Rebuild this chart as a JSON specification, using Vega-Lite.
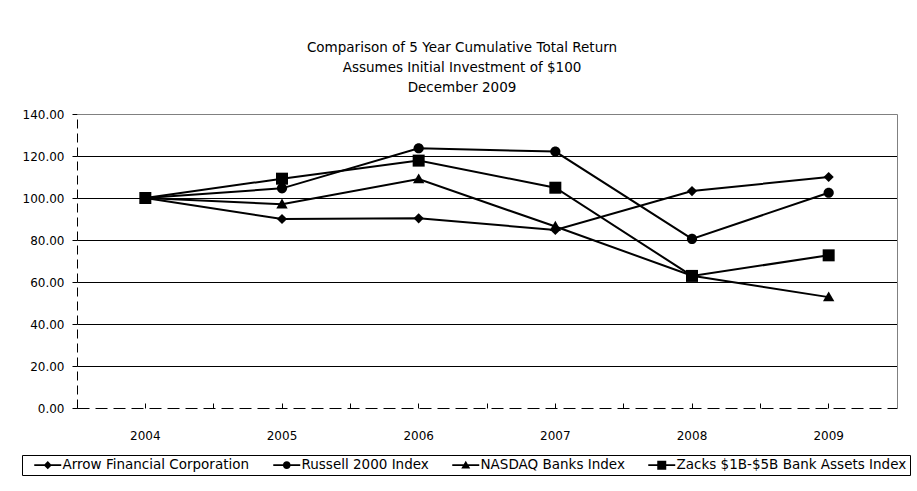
{
  "$schema": "https://vega.github.io/schema/vega-lite/v6.json",
  "description": "Comparison of 5 Year Cumulative Total Return",
  "autosize": "none",
  "padding": {"left": 77, "top": 114, "right": 20, "bottom": 83},
  "width": 820,
  "height": 294,
  "config": {
    "font": "DejaVu Sans",
    "view": {"stroke": null},
    "axis": {"labelFont": "DejaVu Sans", "labelFontSize": 12, "labelColor": "black", "title": null}
  },
  "title": {
    "text": ["Comparison of 5 Year Cumulative Total Return", "Assumes Initial Investment of $100", "December 2009"],
    "font": "DejaVu Sans",
    "fontSize": 13.5,
    "fontWeight": "normal",
    "color": "black",
    "lineHeight": 20,
    "anchor": "middle",
    "dx": -25,
    "offset": 14
  },
  "data": {
    "values": [
      {"year": "2004", "series": "Arrow Financial Corporation", "value": 100},
      {"year": "2005", "series": "Arrow Financial Corporation", "value": 90.0},
      {"year": "2006", "series": "Arrow Financial Corporation", "value": 90.3},
      {"year": "2007", "series": "Arrow Financial Corporation", "value": 84.8},
      {"year": "2008", "series": "Arrow Financial Corporation", "value": 103.3},
      {"year": "2009", "series": "Arrow Financial Corporation", "value": 110.0},
      {"year": "2004", "series": "Russell 2000 Index", "value": 100},
      {"year": "2005", "series": "Russell 2000 Index", "value": 104.6},
      {"year": "2006", "series": "Russell 2000 Index", "value": 123.7},
      {"year": "2007", "series": "Russell 2000 Index", "value": 122.1},
      {"year": "2008", "series": "Russell 2000 Index", "value": 80.5},
      {"year": "2009", "series": "Russell 2000 Index", "value": 102.5},
      {"year": "2004", "series": "NASDAQ Banks Index", "value": 100},
      {"year": "2005", "series": "NASDAQ Banks Index", "value": 97.0},
      {"year": "2006", "series": "NASDAQ Banks Index", "value": 109.0},
      {"year": "2007", "series": "NASDAQ Banks Index", "value": 86.4},
      {"year": "2008", "series": "NASDAQ Banks Index", "value": 63.0},
      {"year": "2009", "series": "NASDAQ Banks Index", "value": 52.8},
      {"year": "2004", "series": "Zacks $1B-$5B Bank Assets Index", "value": 100},
      {"year": "2005", "series": "Zacks $1B-$5B Bank Assets Index", "value": 109.2},
      {"year": "2006", "series": "Zacks $1B-$5B Bank Assets Index", "value": 117.8},
      {"year": "2007", "series": "Zacks $1B-$5B Bank Assets Index", "value": 104.9},
      {"year": "2008", "series": "Zacks $1B-$5B Bank Assets Index", "value": 62.9},
      {"year": "2009", "series": "Zacks $1B-$5B Bank Assets Index", "value": 72.7}
    ]
  },
  "layer": [
    {
      "mark": {"type": "line", "color": "black", "strokeWidth": 2},
      "encoding": {
        "x": {
          "field": "year", "type": "ordinal",
          "scale": {"type": "band", "paddingInner": 0, "paddingOuter": 0},
          "axis": {"orient": "bottom", "labelAngle": 0, "domainColor": "black", "domainDash": [12, 6],
                   "tickColor": "black", "tickSize": -5, "labelPadding": 27, "grid": false}
        },
        "y": {
          "field": "value", "type": "quantitative",
          "scale": {"domain": [0, 140], "nice": false},
          "axis": {"orient": "left", "values": [0, 20, 40, 60, 80, 100, 120, 140], "format": ".2f",
                   "domainColor": "black", "domainDash": [9, 5], "tickColor": "black", "tickSize": 5,
                   "labelPadding": 8, "grid": true, "gridColor": "black", "gridWidth": 1,
                   "gridOpacity": {"condition": {"test": "datum.value === 0 || datum.value === 140", "value": 0}, "value": 1}}
        },
        "detail": {"field": "series"}
      }
    },
    {
      "mark": {"type": "point", "filled": true, "color": "black", "opacity": 1, "size": 144},
      "encoding": {
        "x": {
          "field": "year", "type": "ordinal",
          "axis": {"orient": "top", "labels": false, "ticks": false, "domainColor": "#808080", "grid": false}
        },
        "y": {
          "field": "value", "type": "quantitative",
          "axis": {"orient": "right", "labels": false, "ticks": false, "domainColor": "#808080", "grid": false}
        },
        "shape": {
          "field": "series", "type": "nominal",
          "sort": ["Arrow Financial Corporation", "Russell 2000 Index", "NASDAQ Banks Index", "Zacks $1B-$5B Bank Assets Index"],
          "scale": {"range": [
            "M0,-0.85L0.85,0L0,0.85L-0.85,0Z",
            "M-0.85,0A0.85,0.85,0,1,1,0.85,0A0.85,0.85,0,1,1,-0.85,0Z",
            "M0,-0.95L0.95,0.7L-0.95,0.7Z",
            "M-1,-1L1,-1L1,1L-1,1Z"
          ]},
          "legend": null
        }
      }
    },
    {
      "mark": {"type": "point", "filled": true, "color": "black", "opacity": 0},
      "encoding": {
        "x": {
          "field": "year", "type": "ordinal",
          "axis": {"orient": "bottom", "bandPosition": 0, "labels": false, "domain": false, "grid": false,
                   "tickColor": "black", "tickSize": -5}
        },
        "y": {"field": "value", "type": "quantitative", "axis": null},
        "shape": {
          "field": "series", "type": "nominal",
          "sort": ["Arrow Financial Corporation", "Russell 2000 Index", "NASDAQ Banks Index", "Zacks $1B-$5B Bank Assets Index"],
          "scale": {"range": [
            "M-3,-0.22L3,-0.22L3,0.22L-3,0.22ZM0,-0.9L0.9,0L0,0.9L-0.9,0Z",
            "M-3,-0.22L3,-0.22L3,0.22L-3,0.22ZM-0.85,0A0.85,0.85,0,1,1,0.85,0A0.85,0.85,0,1,1,-0.85,0Z",
            "M-3,-0.22L3,-0.22L3,0.22L-3,0.22ZM0,-1L1,0.75L-1,0.75Z",
            "M-3,-0.22L3,-0.22L3,0.22L-3,0.22ZM-1,-1L1,-1L1,1L-1,1Z"
          ]},
          "legend": {
            "title": null, "orient": "none", "legendX": -55, "legendY": 341,
            "direction": "horizontal", "columns": 4, "strokeColor": "black", "padding": 3,
            "labelFont": "DejaVu Sans", "labelFontSize": 13.5, "labelColor": "black", "labelLimit": 300,
            "symbolSize": 81, "symbolOffset": 16, "labelOffset": 8, "columnPadding": 14,
            "symbolFillColor": "black", "symbolStrokeColor": "black", "symbolStrokeWidth": 0, "symbolOpacity": 1
          }
        }
      }
    }
  ],
  "resolve": {
    "scale": {"shape": "independent"},
    "axis": {"x": "independent", "y": "independent"},
    "legend": {"shape": "independent"}
  }
}
